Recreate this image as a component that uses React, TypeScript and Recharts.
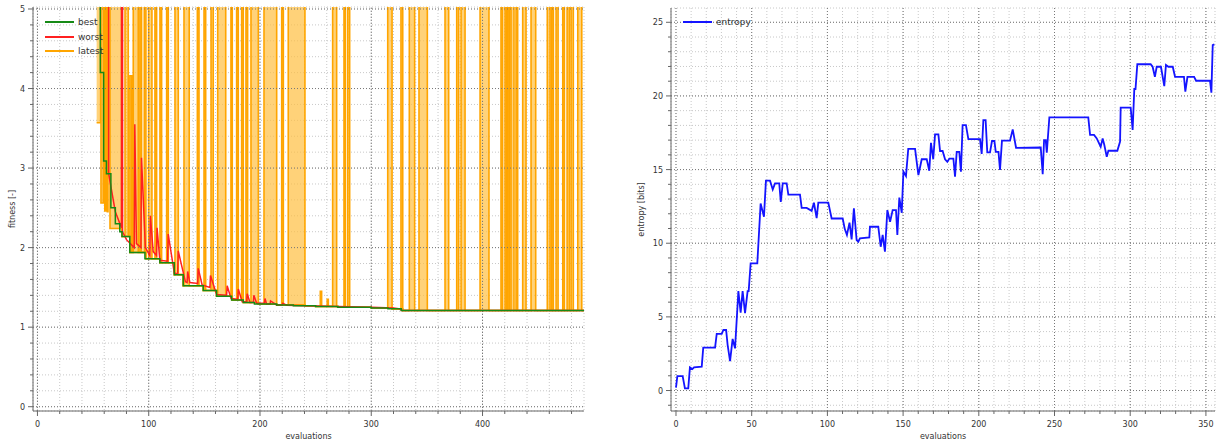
import React from 'react'
import {Area, CartesianGrid, ComposedChart, Legend, Line, LineChart, ReferenceLine, XAxis, YAxis} from 'recharts'

// value used for failed evaluations, far above the visible range
const HIGH = 40

// best fitness so far: [evaluation, fitness], drawn as steps
const bestSteps: [number, number][] = [
    [54, HIGH], [56.5, 4.2], [59.5, 3.09], [62, 2.93], [66, 2.5], [70, 2.3], [74, 2.2], [76, 2.14],
    [83, 1.94], [96.6, 1.86], [110, 1.81], [123, 1.66], [131, 1.52], [149, 1.46], [161, 1.39],
    [174.5, 1.34], [185, 1.31], [195, 1.29], [215, 1.28], [230, 1.27], [250, 1.26], [270, 1.25],
    [300, 1.24], [315, 1.23], [327, 1.21], [491.2, 1.21],
]

// worst fitness in the population: [evaluation, fitness]
const worstPoints: [number, number][] = [
    [54, HIGH], [63.5, HIGH], [64, 2.93], [70, 2.45], [75.5, 2.25], [75.8, HIGH], [76.2, HIGH], [76.5, 2.2],
    [80, 2.1], [87, 2.0], [87.5, 3.55], [89, 2.05], [93, 2.0], [93.5, 3.13], [97, 2.0], [101, 1.9],
    [101.5, 2.4], [104, 1.95], [107, 1.9], [107.5, 2.25], [110, 1.84], [117, 1.83], [117.5, 2.17],
    [123, 1.68], [126, 1.67], [126.5, 1.96], [133, 1.57], [134.5, 1.56], [135, 1.7], [137, 1.56],
    [144, 1.55], [144.5, 1.74], [148, 1.53], [155, 1.5], [155.5, 1.65], [161, 1.41], [170, 1.4],
    [170.5, 1.52], [174, 1.36], [180, 1.35], [180.5, 1.48], [184, 1.32], [188, 1.32], [188.5, 1.42],
    [191, 1.31], [194, 1.31], [194.5, 1.4], [197, 1.3], [204, 1.3], [204.5, 1.36], [206, 1.29],
    [209, 1.29], [209.5, 1.33], [215, 1.28], [220, 1.28], [220.5, 1.3], [224, 1.275], [240, 1.27],
    [251, 1.265], [270, 1.26], [300, 1.25], [320, 1.24], [326, 1.23], [327, 1.21], [491.2, 1.21],
]

// latest evaluation spikes: [start, end, top, low]
const latestSpikes: number[][] = [
    [53.2, 56.8, HIGH, 3.57], [57.1, 59.2, HIGH, 2.56], [60.5, 61.5, HIGH, 2.46], [62.8, 63.4, HIGH, 2.45],
    [65.2, 75.7, HIGH, 2.24], [78.7, 81.6], [83.1, 84.7, 4.16], [86.1, 90.6], [92.1, 93.6], [96.0, 97.5],
    [99.9, 102.9], [105.6, 107.1], [110.1, 111.6], [116.1, 117.6], [123.6, 126.6], [131.7, 136.4],
    [143.7, 145.2], [149.7, 151.2], [156.0, 158.0], [162.0, 169.2], [173.9, 175.1], [179.0, 180.5],
    [183.5, 185.0], [187.4, 188.9], [191.9, 198.5], [203.6, 215.0], [219.5, 221.0], [225.4, 240.4],
    [254.2, 255.4, 1.45], [260.4, 261.4, 1.35], [265.3, 268.9], [275.5, 276.7], [278.8, 280.6],
    [314.8, 318.7], [326.7, 328.3], [334.2, 339.0], [342.9, 350.4], [366.3, 369.6], [376.8, 378.6],
    [380.7, 384.3], [397.8, 405.8], [416.6, 418.1], [420.2, 421.7], [422.6, 424.1], [425.6, 428.3],
    [430.1, 431.6], [436.1, 439.1], [443.6, 447.8], [458.2, 460.7], [462.2, 463.7], [466.1, 467.9],
    [472.1, 473.6], [476.0, 478.0], [479.6, 481.6], [485.6, 489.2],
]

// entropy of the population: [evaluation, bits]
const entropyPoints: [number, number][] = [
    [0, 0.2], [0.9, 0.98], [4.4, 0.98], [5.9, 0.15], [8.1, 0.15], [9.2, 1.57], [10.8, 1.46], [11.9, 1.57],
    [17.0, 1.62], [18.0, 2.91], [25.8, 2.91], [26.9, 3.84], [30.2, 3.84], [31.3, 4.11], [33.1, 4.11],
    [34.1, 3.09], [35.7, 2.0], [37.4, 3.5], [39.0, 2.86], [41.2, 6.75], [42.7, 5.28], [44.0, 6.75],
    [45.6, 5.25], [47.3, 6.75], [48.0, 6.75], [49.3, 8.63], [53.7, 8.63], [55.9, 12.7], [58.1, 11.8],
    [59.4, 14.25], [62.1, 14.25], [63.9, 13.65], [65.4, 14.06], [68.2, 14.06], [69.2, 12.8], [70.5, 14.06],
    [73.1, 14.06], [74.2, 13.3], [81.9, 13.3], [83.0, 12.4], [86.3, 12.4], [89.6, 12.2], [91.1, 12.75],
    [92.9, 11.7], [94.0, 12.75], [100.6, 12.75], [102.8, 11.68], [110.1, 11.68], [111.4, 11.0],
    [112.9, 10.56], [114.6, 11.4], [116.0, 10.26], [117.5, 12.37], [119.3, 10.22], [120.4, 10.1],
    [121.5, 10.33], [127.7, 10.4], [128.1, 11.12], [133.6, 11.12], [135.2, 9.76], [136.5, 10.56],
    [138.0, 9.43], [139.6, 12.25], [141.4, 11.46], [143.1, 12.25], [145.3, 12.25], [146.2, 10.56],
    [147.5, 13.1], [149.1, 12.07], [150.2, 14.86], [151.9, 14.56], [153.4, 16.4], [157.9, 16.4],
    [160.1, 14.63], [162.3, 15.7], [165.6, 15.7], [167.3, 14.92], [168.4, 16.82], [169.9, 15.7],
    [171.1, 17.39], [173.3, 17.39], [174.4, 16.26], [176.1, 16.26], [177.7, 15.7], [179.2, 15.53],
    [180.6, 15.75], [183.2, 15.75], [184.3, 14.52], [185.4, 16.2], [187.1, 16.2], [188.2, 14.86],
    [189.3, 18.02], [191.5, 18.02], [193.1, 17.07], [200.8, 17.07], [201.9, 16.06], [203.0, 18.36],
    [204.5, 18.36], [205.6, 16.17], [207.4, 16.17], [208.7, 16.94], [210.3, 16.94], [211.2, 16.2],
    [213.0, 16.2], [214.0, 14.97], [215.3, 16.96], [220.6, 16.96], [222.4, 17.73], [224.6, 16.48],
    [240.9, 16.5], [242.2, 14.68], [243.1, 17.0], [244.2, 17.0], [244.9, 16.15], [246.6, 18.55],
    [272.3, 18.55], [273.5, 17.35], [276.1, 17.35], [277.9, 17.12], [278.9, 16.9], [280.5, 16.55],
    [281.8, 17.12], [282.9, 16.67], [284.5, 15.87], [285.6, 16.28], [291.5, 16.28], [293.3, 16.9],
    [293.7, 19.2], [300.3, 19.2], [301.6, 17.69], [302.7, 20.47], [303.5, 20.47], [304.7, 22.15],
    [313.5, 22.15], [314.8, 21.98], [316.3, 21.3], [317.5, 21.98], [320.3, 21.98], [322.5, 20.67],
    [323.6, 22.1], [325.2, 21.98], [328.1, 21.98], [329.6, 21.3], [335.5, 21.3], [336.4, 20.29],
    [337.8, 21.3], [342.2, 21.3], [343.5, 21.03], [352.7, 21.03], [353.6, 20.22], [354.5, 23.45],
    [355.6, 23.5],
]

// labelled ticks
const fitnessLabels = [0, 1, 2, 3, 4, 5]
const fitnessEvalLabels = [0, 100, 200, 300, 400]
const entropyLabels = [0, 5, 10, 15, 20, 25]
const entropyEvalLabels = [0, 50, 100, 150, 200, 250, 300, 350]

const AXIS = '#666'
const TEXT = '#333'
const MINOR_GRID = '#c8c8c8'
const MAJOR_GRID = '#777'

const steps = (from: number, to: number, step: number) => {
    const out: number[] = []
    for (let v = from; v <= to + 1e-9; v += step) out.push(Math.round(v * 100) / 100)
    return out
}

const bestAt = (x: number) => {
    let v = HIGH
    bestSteps.forEach(([bx, bv]) => {
        if (bx <= x) v = bv
    })
    return v
}

// latest: range rows [low, high], high leaves the plot on failed evaluations
const latestRows: { x: number, r: [number, number] }[] = []
let cursor = bestSteps[0][0]
latestSpikes.forEach(([s, e, top = HIGH, low]) => {
    bestSteps.forEach(([bx]) => {
        if (bx > cursor && bx < s) {
            const b = bestAt(bx)
            latestRows.push({x: bx, r: [b, b]})
        }
    })
    latestRows.push({x: s, r: [low ?? bestAt(s), top]})
    const b = bestAt(e)
    latestRows.push({x: e, r: [b, b]})
    cursor = e
})
latestRows.push({x: 491.2, r: [1.21, 1.21]})

const bestRows = bestSteps.map(([x, v]) => ({x, v}))
const worstRows = worstPoints.map(([x, v]) => ({x, v}))
const entropyRows = entropyPoints.map(([x, v]) => ({x, v}))

const AxisTick = (props: any) => {
    const {x, y, payload, side, majors} = props
    const value = payload.value
    const major = majors.includes(value)
    const len = major ? 5 : 3
    if (side === 'left') {
        return (
            <g>
                <line x1={x - len} x2={x} y1={y} y2={y} stroke={AXIS}/>
                {major && <text x={x - len - 3} y={y} dy={3} textAnchor='end' fontSize={8} fill={TEXT}>{value}</text>}
            </g>
        )
    }
    return (
        <g>
            <line x1={x} x2={x} y1={y} y2={y + len} stroke={AXIS}/>
            {major && <text x={x} y={y + 16} textAnchor='middle' fontSize={8} fill={TEXT}>{value}</text>}
        </g>
    )
}

const LegendBox = (props: { items: { name: string, color: string }[] }) => (
    <div style={{fontSize: 9, color: TEXT, lineHeight: '14.5px'}}>
        {props.items.map(item => (
            <div key={item.name} style={{display: 'flex', alignItems: 'center'}}>
                <span style={{display: 'inline-block', width: 29, height: 2, background: item.color, marginRight: 4}}/>
                <span>{item.name}</span>
            </div>
        ))}
    </div>
)

const fitnessLegend = [
    {name: 'best', color: '#168a16'},
    {name: 'worst', color: '#ff2020'},
    {name: 'latest', color: '#ffa500'},
]
const entropyLegend = [{name: 'entropy', color: '#1414ff'}]

const FitnessChart = () => (
    <ComposedChart width={610} height={441} margin={{top: 7, right: 26, bottom: 0, left: 8}}>
        <CartesianGrid stroke={MINOR_GRID} strokeDasharray='1 2'/>
        {fitnessLabels.map(v => <ReferenceLine key={'y' + v} y={v} stroke={MAJOR_GRID} strokeDasharray='1 2'/>)}
        {fitnessEvalLabels.map(v => <ReferenceLine key={'x' + v} x={v} stroke={MAJOR_GRID} strokeDasharray='1 2'/>)}
        <XAxis
            dataKey='x'
            type='number'
            domain={[-4, 491.2]}
            allowDataOverflow
            ticks={steps(0, 480, 20)}
            interval={0}
            tickSize={0}
            tickMargin={0}
            height={30}
            stroke={AXIS}
            tick={<AxisTick side='bottom' majors={fitnessEvalLabels}/>}
            label={{value: 'evaluations', position: 'insideBottom', offset: 2, fontSize: 8, fill: TEXT}}
        />
        <YAxis
            type='number'
            domain={[-0.054, 5.025]}
            allowDataOverflow
            ticks={steps(0, 5, 0.2)}
            interval={0}
            tickSize={0}
            tickMargin={0}
            width={25}
            stroke={AXIS}
            tick={<AxisTick side='left' majors={fitnessLabels}/>}
            label={{
                value: 'fitness [-]', angle: -90, position: 'insideLeft', offset: 4,
                fontSize: 8, fill: TEXT, style: {textAnchor: 'middle'},
            }}
        />
        <Legend
            layout='vertical'
            align='center'
            verticalAlign='middle'
            wrapperStyle={{left: 45, top: 15, width: 'auto'}}
            content={() => <LegendBox items={fitnessLegend}/>}
        />
        <Area
            data={latestRows}
            dataKey='r'
            name='latest'
            type='stepAfter'
            stroke='#ffa500'
            strokeWidth={1.6}
            fill='#ffbf40'
            fillOpacity={0.7}
            dot={false}
            activeDot={false}
            isAnimationActive={false}
        />
        <Line data={worstRows} dataKey='v' name='worst' type='linear' stroke='#ff2020' strokeWidth={1.5}
              dot={false} activeDot={false} isAnimationActive={false}/>
        <Line data={bestRows} dataKey='v' name='best' type='stepAfter' stroke='#168a16' strokeWidth={1.5}
              dot={false} activeDot={false} isAnimationActive={false}/>
    </ComposedChart>
)

const EntropyChart = () => (
    <LineChart width={607} height={441} margin={{top: 8, right: 2, bottom: 0, left: 20}}>
        <CartesianGrid stroke={MINOR_GRID} strokeDasharray='1 2'/>
        {entropyLabels.map(v => <ReferenceLine key={'y' + v} y={v} stroke={MAJOR_GRID} strokeDasharray='1 2'/>)}
        {entropyEvalLabels.map(v => <ReferenceLine key={'x' + v} x={v} stroke={MAJOR_GRID} strokeDasharray='1 2'/>)}
        <XAxis
            dataKey='x'
            type='number'
            domain={[-3.3, 356]}
            allowDataOverflow
            ticks={steps(0, 350, 10)}
            interval={0}
            tickSize={0}
            tickMargin={0}
            height={30}
            stroke={AXIS}
            tick={<AxisTick side='bottom' majors={entropyEvalLabels}/>}
            label={{value: 'evaluations', position: 'insideBottom', offset: 2, fontSize: 8, fill: TEXT}}
        />
        <YAxis
            type='number'
            domain={[-1.39, 25.97]}
            allowDataOverflow
            ticks={steps(-1, 25, 1)}
            interval={0}
            tickSize={0}
            tickMargin={0}
            width={41}
            stroke={AXIS}
            tick={<AxisTick side='left' majors={entropyLabels}/>}
            label={{
                value: 'entropy [bits]', angle: -90, position: 'insideLeft', offset: 11,
                fontSize: 8, fill: TEXT, style: {textAnchor: 'middle'},
            }}
        />
        <Legend
            layout='vertical'
            align='center'
            verticalAlign='middle'
            wrapperStyle={{left: 73, top: 15, width: 'auto'}}
            content={() => <LegendBox items={entropyLegend}/>}
        />
        <Line data={entropyRows} dataKey='v' name='entropy' type='linear' stroke='#1414ff' strokeWidth={1.8}
              dot={false} activeDot={false} isAnimationActive={false}/>
    </LineChart>
)

const App = () => (
    <div style={{
        position: 'absolute', left: 0, top: 0, width: 1217, height: 441, display: 'flex',
        background: '#fff', fontFamily: '"DejaVu Sans", sans-serif',
    }}>
        <FitnessChart/>
        <EntropyChart/>
    </div>
)

export default App
